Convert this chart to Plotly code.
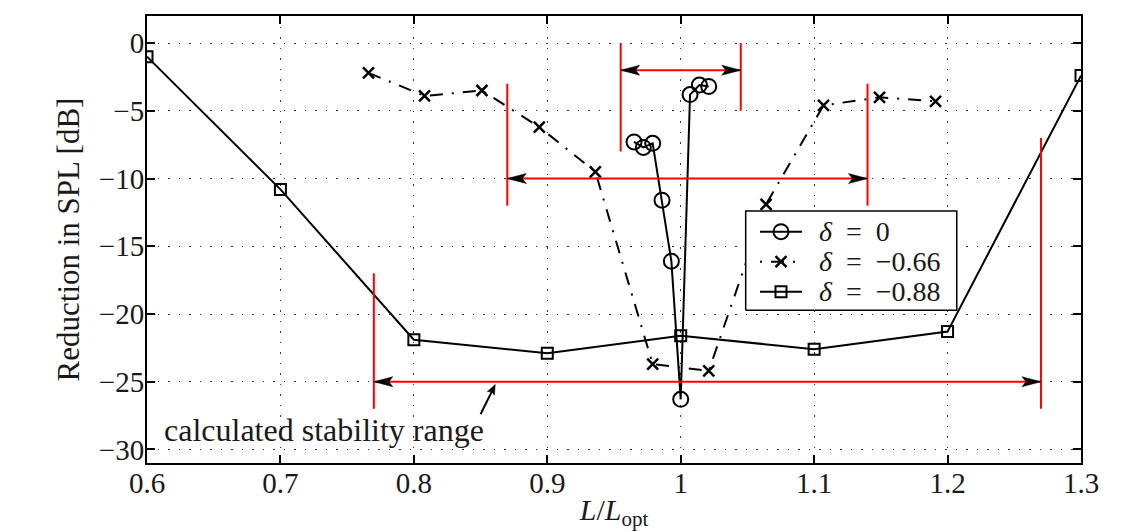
import math
import plotly.graph_objects as go

# ---- measured data -------------------------------------------------------
# delta = 0
d0_x = [0.965, 0.972, 0.979, 0.986, 0.993, 1.000, 1.007, 1.014, 1.021]
d0_y = [-7.3, -7.7, -7.4, -11.6, -16.1, -26.3, -3.8, -3.1, -3.2]

# delta = -0.66
d66_x = [0.766, 0.808, 0.851, 0.894, 0.936, 0.979, 1.021, 1.064, 1.107, 1.149, 1.191]
d66_y = [-2.2, -3.9, -3.5, -6.2, -9.5, -23.7, -24.2, -11.9, -4.6, -4.0, -4.3]

# delta = -0.88
d88_x = [0.6, 0.7, 0.8, 0.9, 1.0, 1.1, 1.2, 1.3]
d88_y = [-1.0, -10.8, -21.9, -22.9, -21.6, -22.6, -21.3, -2.4]

series_names = ["<i>δ</i>\u2002=\u20020", "<i>δ</i>\u2002=\u2002−0.66", "<i>δ</i>\u2002=\u2002−0.88"]

# stability ranges: left/right limit, arrow level, extent of the left and right bars
range_lo = [0.955, 0.87, 0.77]
range_hi = [1.045, 1.14, 1.27]
range_arrow_y = [-2.0, -10.0, -25.0]
range_left_bar = [(0.0, -8.0), (-3.0, -12.0), (-17.0, -27.0)]
range_right_bar = [(0.0, -5.0), (-3.0, -12.0), (-7.0, -27.0)]

# pointer from the label to the widest range
pointer_tail = (0.850, -27.4)
pointer_tip = (0.861, -25.2)

x_ticks = [0.6, 0.7, 0.8, 0.9, 1.0, 1.1, 1.2, 1.3]
y_ticks = [-30, -25, -20, -15, -10, -5, 0]

# ---- layout constants ----------------------------------------------------
W, H = 1135, 531
M_L, M_R, M_T, M_B = 147, 54, 16, 68
X_RANGE = [0.6, 1.3]
Y_RANGE = [-31, 2]
plot_w = W - M_L - M_R
plot_h = H - M_T - M_B
ux = (X_RANGE[1] - X_RANGE[0]) / plot_w   # data units per pixel
uy = (Y_RANGE[1] - Y_RANGE[0]) / plot_h

SERIF = "Liberation Serif"
INK = "#1a1a1a"

fig = go.Figure()

line_w = 2
fig.add_trace(go.Scatter(
    x=d88_x, y=d88_y, mode="lines+markers", showlegend=False,
    line=dict(color="black", width=line_w),
    marker=dict(symbol="square-open", size=11, color="black", line=dict(width=2)),
))
fig.add_trace(go.Scatter(
    x=d66_x, y=d66_y, mode="lines+markers", showlegend=False,
    line=dict(color="black", width=line_w, dash="13px,9px,2px,9px"),
    marker=dict(symbol="x-thin-open", size=11, color="black", line=dict(width=2.5, color="black")),
))
fig.add_trace(go.Scatter(
    x=d0_x, y=d0_y, mode="lines+markers", showlegend=False,
    line=dict(color="black", width=line_w),
    marker=dict(symbol="circle-open", size=15, color="black", line=dict(width=2)),
))


def head(tip_x, tip_y, dir_px, length, half, notch=0.0):
    """Filled arrow head in data units; dir_px is a unit vector in pixel space (y up)."""
    dx, dy = dir_px
    nx, ny = -dy, dx
    bx, by = -dx * length, -dy * length
    pts = [(0, 0),
           (bx + nx * half, by + ny * half),
           (bx + dx * notch, by + dy * notch),
           (bx - nx * half, by - ny * half),
           (0, 0)]
    return ([tip_x + p[0] * ux for p in pts], [tip_y + p[1] * uy for p in pts])


# ---- stability range brackets (red) with black arrow heads ---------------
for lo, hi, ya, lb, rb in zip(range_lo, range_hi, range_arrow_y, range_left_bar, range_right_bar):
    for xs, ys in (([lo, lo], list(lb)), ([hi, hi], list(rb)), ([lo, hi], [ya, ya])):
        fig.add_trace(go.Scatter(x=xs, y=ys, mode="lines", showlegend=False,
                                 line=dict(color="#ff0000", width=2), hoverinfo="skip"))
    for tip, d in ((lo, (-1.0, 0.0)), (hi, (1.0, 0.0))):
        hx, hy = head(tip, ya, d, 19, 5, notch=4)
        fig.add_trace(go.Scatter(x=hx, y=hy, mode="lines", fill="toself", fillcolor="black",
                                 line=dict(color="black", width=0.5),
                                 showlegend=False, hoverinfo="skip"))

# ---- black pointer arrow --------------------------------------------------
px_dx = (pointer_tip[0] - pointer_tail[0]) / ux
px_dy = (pointer_tip[1] - pointer_tail[1]) / uy
norm = math.hypot(px_dx, px_dy)
pdir = (px_dx / norm, px_dy / norm)
fig.add_trace(go.Scatter(x=[pointer_tail[0], pointer_tip[0] - pdir[0] * 6 * ux],
                         y=[pointer_tail[1], pointer_tip[1] - pdir[1] * 6 * uy],
                         mode="lines", line=dict(color="black", width=2),
                         showlegend=False, hoverinfo="skip"))
hx, hy = head(pointer_tip[0], pointer_tip[1], pdir, 10, 4, notch=2)
fig.add_trace(go.Scatter(x=hx, y=hy, mode="lines", fill="toself", fillcolor="black",
                         line=dict(color="black", width=0.5), showlegend=False, hoverinfo="skip"))

# ---- legend drawn on an overlay axis pair (0..1 over the plot area) ------
LEG = dict(x0=0.641, x1=0.867, y0=0.342, y1=0.564)
leg_rows = [0.5174, 0.4503, 0.3832]
leg_line = (0.6563, 0.7013)
leg_mark = 0.6788
leg_text_x = 0.7184

fig.add_trace(go.Scatter(
    x=[LEG["x0"], LEG["x1"], LEG["x1"], LEG["x0"], LEG["x0"]],
    y=[LEG["y0"], LEG["y0"], LEG["y1"], LEG["y1"], LEG["y0"]],
    xaxis="x2", yaxis="y2", mode="lines", fill="toself", fillcolor="white",
    line=dict(color="black", width=1.5), showlegend=False, hoverinfo="skip"))

leg_styles = [
    (dict(color="black", width=line_w), dict(symbol="circle-open", size=15, color="black", line=dict(width=2))),
    (dict(color="black", width=line_w, dash="2px,9px,13px,9px"),
     dict(symbol="x-thin-open", size=11, color="black", line=dict(width=2.5, color="black"))),
    (dict(color="black", width=line_w), dict(symbol="square-open", size=11, color="black", line=dict(width=2))),
]
for ry, (ls, ms), name in zip(leg_rows, leg_styles, series_names):
    fig.add_trace(go.Scatter(x=list(leg_line), y=[ry, ry], xaxis="x2", yaxis="y2",
                             mode="lines", line=ls, showlegend=False, hoverinfo="skip"))
    fig.add_trace(go.Scatter(x=[leg_mark], y=[ry], xaxis="x2", yaxis="y2",
                             mode="markers", marker=ms, showlegend=False, hoverinfo="skip"))
    fig.add_annotation(x=leg_text_x, y=ry, xref="x2", yref="y2", text=name,
                       showarrow=False, xanchor="left", yanchor="middle", borderpad=0,
                       font=dict(family=SERIF, size=28, color=INK))

# ---- pointer label --------------------------------------------------------
fig.add_annotation(x=0.611, y=-28.6, xref="x", yref="y", text="calculated stability range",
                   showarrow=False, xanchor="left", yanchor="middle",
                   font=dict(family=SERIF, size=32, color=INK))

axis_common = dict(
    ticks="inside", ticklen=8, tickwidth=1.5, tickcolor="black",
    mirror="allticks", showline=True, linewidth=2, linecolor="black",
    showgrid=True, gridcolor="#333333", gridwidth=1.2, griddash="1.5px,9px",
    zeroline=False, automargin=False, tickfont=dict(family=SERIF, size=29, color=INK),
)
fig.update_layout(
    width=W, height=H,
    margin=dict(l=M_L, r=M_R, t=M_T, b=M_B),
    paper_bgcolor="white", plot_bgcolor="white",
    showlegend=False,
    xaxis=dict(range=X_RANGE, tickvals=x_ticks, ticktext=[f"{v:g}" for v in x_ticks],
               ticklabelstandoff=-7,
               title=dict(text="<i>L</i>/<i>L</i><sub>opt</sub>", standoff=18,
                          font=dict(family=SERIF, size=30, color=INK)),
               **axis_common),
    yaxis=dict(range=Y_RANGE, tickvals=y_ticks, ticktext=[f"{v:g}".replace("-", "−") for v in y_ticks],
               ticklabelstandoff=-5,
               title=dict(text="Reduction in SPL [dB]", standoff=10,
                          font=dict(family=SERIF, size=31, color=INK)),
               **axis_common),
    xaxis2=dict(overlaying="x", range=[0, 1], visible=False),
    yaxis2=dict(overlaying="y", range=[0, 1], visible=False),
)

fig.write_html("out.html")
